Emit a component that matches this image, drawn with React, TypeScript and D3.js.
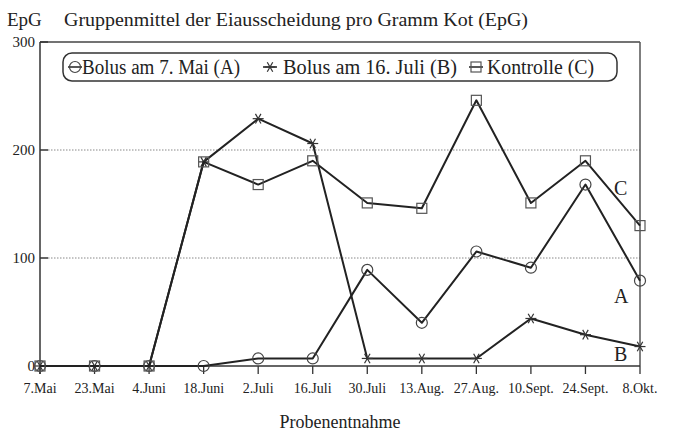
import React from "react";
import * as d3 from "d3";

const categories = ["7.Mai", "23.Mai", "4.Juni", "18.Juni", "2.Juli", "16.Juli", "30.Juli", "13.Aug.", "27.Aug.", "10.Sept.", "24.Sept.", "8.Okt."];
const seriesA = [0, 0, 0, 0, 7, 7, 89, 40, 106, 91, 168, 79];
const seriesB = [0, 0, 0, 189, 229, 206, 7, 7, 7, 44, 29, 18];
const seriesC = [0, 0, 0, 189, 168, 190, 151, 146, 246, 151, 190, 130];
const yTicks = [0, 100, 200, 300];
const gridTicks = [100, 200];
const legendLabels = ["Bolus am 7. Mai (A)", "Bolus am 16. Juli (B)", "Kontrolle (C)"];
const endLabels = ["A", "B", "C"];

const FONT = "Liberation Serif, Times New Roman, serif";
const INK = "#222";

function Marker({ kind, x, y }: { kind: string; x: number; y: number }) {
  if (kind === "circle") {
    return <circle cx={x} cy={y} r={5.5} fill="none" stroke="#444" strokeWidth={1.2} />;
  }
  if (kind === "square") {
    return <rect x={x - 5} y={y - 5} width={10} height={10} fill="none" stroke="#555" strokeWidth={1.2} />;
  }
  const r = 5.5;
  const angles = [0, 60, 120];
  return (
    <g stroke="#333" strokeWidth={1.2}>
      {angles.map((a) => {
        const rad = (a * Math.PI) / 180;
        return (
          <line key={a} x1={x - r * Math.cos(rad)} y1={y - r * Math.sin(rad)} x2={x + r * Math.cos(rad)} y2={y + r * Math.sin(rad)} />
        );
      })}
    </g>
  );
}

export default function App() {
  const W = 674;
  const H = 433;
  const x = d3.scalePoint<string>().domain(categories).range([40, 640]);
  const y = d3.scaleLinear().domain([0, 300]).range([366, 42]);

  const line = d3
    .line<number>()
    .x((_, i) => x(categories[i]) as number)
    .y((d) => y(d));

  const series = [
    { data: seriesA, kind: "circle" },
    { data: seriesB, kind: "star" },
    { data: seriesC, kind: "square" },
  ];

  const legendItems = [
    { kind: "circle", sx: 75, tx: 82, w: 158 },
    { kind: "star", sx: 270, tx: 283, w: 174 },
    { kind: "square", sx: 476, tx: 487, w: 107 },
  ];

  const endPos = [
    { label: endLabels[0], v: 65 },
    { label: endLabels[1], v: 11 },
    { label: endLabels[2], v: 165 },
  ];

  return (
    <svg width={W} height={H} style={{ position: "absolute", left: 0, top: 0, background: "#fff", fontFamily: FONT }}>
      <rect x={0} y={0} width={W} height={H} fill="#fff" />
      {/* Title */}
      <text x={7} y={26} fontSize={19} fill={INK} style={{ fontFamily: FONT }}>EpG</text>
      <text x={64} y={26} fontSize={19} fill={INK} style={{ fontFamily: FONT }} textLength={464} lengthAdjust="spacingAndGlyphs">Gruppenmittel der Eiausscheidung pro Gramm Kot (EpG)</text>

      {/* grid */}
      {gridTicks.map((t) => (
        <line key={t} x1={48} x2={640} y1={y(t)} y2={y(t)} stroke="#888" strokeWidth={1} strokeDasharray="1.5,1.5" />
      ))}

      {/* frame */}
      <line x1={40} x2={640} y1={y(300)} y2={y(300)} stroke="#444" strokeWidth={1.5} />
      <line x1={640} x2={640} y1={y(300)} y2={y(0)} stroke="#555" strokeWidth={1.5} />
      <line x1={40} x2={40} y1={y(300)} y2={y(0) + 8} stroke="#333" strokeWidth={1.5} />
      <line x1={40} x2={640} y1={y(0)} y2={y(0)} stroke="#333" strokeWidth={1.5} />

      {/* y ticks */}
      {yTicks.map((t) => (
        <g key={t}>
          <line x1={40} x2={48} y1={y(t)} y2={y(t)} stroke="#333" strokeWidth={1.5} />
          <text x={35} y={y(t) + 5} textAnchor="end" fontSize={15} fill={INK} style={{ fontFamily: FONT }}>{t}</text>
        </g>
      ))}

      {/* x ticks */}
      {categories.map((c) => (
        <g key={c}>
          <line x1={x(c)} x2={x(c)} y1={y(0)} y2={y(0) + 8} stroke="#333" strokeWidth={1.3} />
          <text x={x(c)} y={393} textAnchor="middle" fontSize={14} fill={INK} style={{ fontFamily: FONT }}>{c}</text>
        </g>
      ))}

      {/* series */}
      {series.map((s, si) => (
        <g key={si}>
          <path d={line(s.data) || ""} fill="none" stroke={INK} strokeWidth={2} strokeLinejoin="round" />
          {s.data.map((v, i) => (
            <Marker key={i} kind={s.kind} x={x(categories[i]) as number} y={y(v)} />
          ))}
        </g>
      ))}

      {/* end labels */}
      {endPos.map((e) => (
        <text key={e.label} x={614} y={y(e.v) + 7} fontSize={20} fill={INK} style={{ fontFamily: FONT }}>{e.label}</text>
      ))}

      {/* legend */}
      <rect x={63} y={53} width={554} height={28} rx={9} ry={9} fill="#fff" stroke="#333" strokeWidth={1.5} />
      {legendItems.map((it, i) => (
        <g key={i}>
          <line x1={it.sx - 7} x2={it.sx + 7} y1={67} y2={67} stroke={INK} strokeWidth={1.5} />
          <Marker kind={it.kind} x={it.sx} y={67} />
          <text x={it.tx} y={74} fontSize={20} fill={INK} style={{ fontFamily: FONT }} textLength={it.w} lengthAdjust="spacingAndGlyphs">{legendLabels[i]}</text>
        </g>
      ))}

      {/* x axis title */}
      <text x={340} y={428} textAnchor="middle" fontSize={18} fill={INK} style={{ fontFamily: FONT }}>Probenentnahme</text>
    </svg>
  );
}
